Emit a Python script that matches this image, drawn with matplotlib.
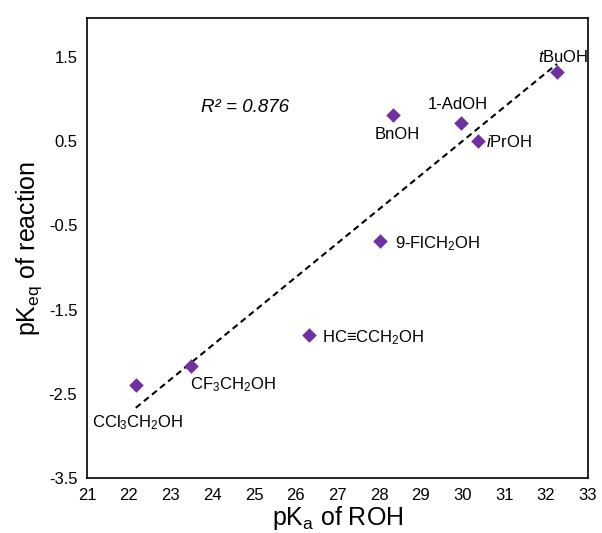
import numpy as np
import matplotlib
matplotlib.use("Agg")
import matplotlib.pyplot as plt

plt.rcParams['font.family'] = ['Liberation Sans', 'DejaVu Sans']
plt.rcParams['mathtext.fontset'] = 'custom'
plt.rcParams['mathtext.rm'] = 'Liberation Sans'
plt.rcParams['mathtext.it'] = 'Liberation Sans:italic'

names = [r'$\mathit{t}$BuOH', '1-AdOH', 'BnOH', r'$\mathit{i}$PrOH', r'9-FlCH$_2$OH',
         r'HC≡CCH$_2$OH', r'CF$_3$CH$_2$OH', r'CCl$_3$CH$_2$OH']
pka = [32.26, 29.96, 28.33, 30.37, 28.02, 26.32, 23.49, 22.17]
pkeq = [1.32, 0.72, 0.81, 0.50, -0.685, -1.80, -2.17, -2.40]
label_offsets = [(6, 15, 'center'), (-3, 18, 'center'), (4, -19, 'center'), (8, -1, 'left'),
                 (15, -3, 'left'), (13, -3, 'left'), (-1, -19, 'left'), (-44, -37, 'left')]
xticks = list(range(21, 34))
yticks = [-3.5, -2.5, -1.5, -0.5, 0.5, 1.5]

fig = plt.figure(figsize=(6.02, 5.33), dpi=100)
ax = fig.add_axes([0.1445, 0.103, 0.832, 0.863])

slope, intercept = np.polyfit(pka, pkeq, 1)
xl = np.array([min(pka), max(pka)])
ax.plot(xl, slope * xl + intercept, ls=(0, (3, 2)), color='black', lw=1.5, zorder=2)
ax.scatter(pka, pkeq, marker='D', s=55, color='#7030A0', zorder=3, linewidths=0)

for n, x, y, (dx, dy, ha) in zip(names, pka, pkeq, label_offsets):
    ax.annotate(n, (x, y), xytext=(dx, dy), textcoords='offset pixels',
                ha=ha, va='center', fontsize=12)

ax.text(0.315, 0.805, 'R² = 0.876', style='italic', transform=ax.transAxes, fontsize=13.5,
        ha='center', va='center')

ax.set_xlim(21, 33)
ax.set_ylim(-3.5, 1.96)
ax.set_xticks(xticks)
ax.set_yticks(yticks)
ax.set_yticklabels([f'{v:.1f}' for v in yticks])
ax.tick_params(length=0, labelsize=12, pad=7)
ax.set_xlabel(r'pK$_\mathregular{a}$ of ROH', fontsize=18, labelpad=1)
ax.set_ylabel(r'pK$_\mathregular{eq}$ of reaction', fontsize=18, labelpad=3)
for s in ax.spines.values():
    s.set_linewidth(1.2)

fig.savefig('out.png', dpi=100)
